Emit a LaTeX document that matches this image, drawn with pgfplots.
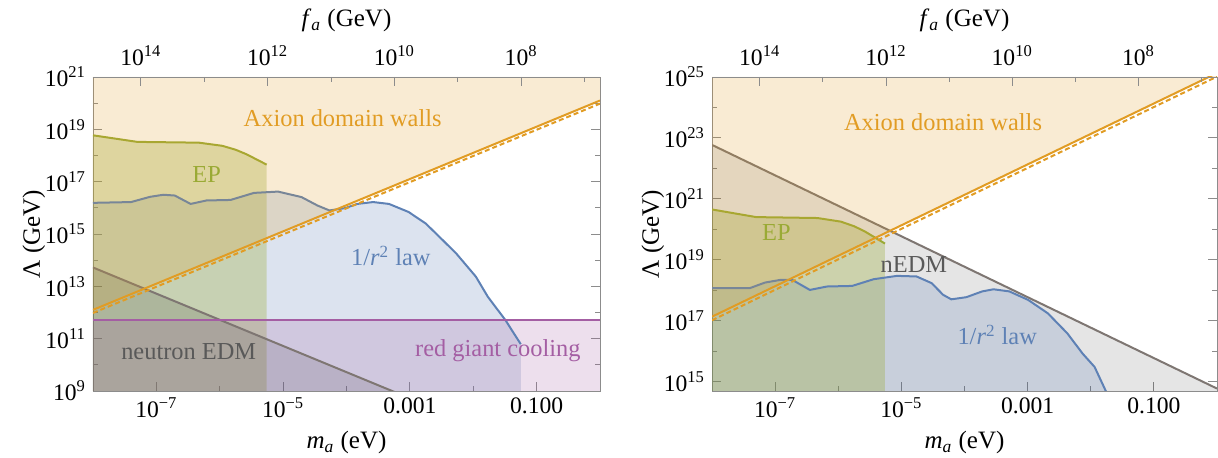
\documentclass[border=0pt]{standalone}
\usepackage{fontspec}
\setmainfont{Liberation Serif}
\usepackage{pgfplots}
\pgfplotsset{compat=1.18}

\definecolor{cblue}{HTML}{5E81B5}
\definecolor{corange}{HTML}{E19C24}
\definecolor{cgreen}{HTML}{9AAA35}
\definecolor{cpurple}{HTML}{A45EA3}
\definecolor{cgrey}{HTML}{7E7672}
\definecolor{cframe}{HTML}{8C8C8C}

\newcommand{\tp}[1]{10\textsuperscript{#1}}

\pgfplotsset{
  every axis/.append style={
    scale only axis, height=157pt,
    axis line style={cframe}, tick style={cframe, thin},
    major tick length=4.5pt, minor tick length=2.5pt,
    tick align=inside,
    tick label style={font=\fontsize{11.8}{13}\selectfont},
    label style={font=\fontsize{12.5}{14}\selectfont},
  },
}
\tikzset{regionlabel/.style={font=\fontsize{12.2}{14}\selectfont}}

\begin{document}
\begin{tikzpicture}
\useasboundingbox (-46.5pt,-33.5pt) rectangle (562.5pt,195.5pt);

% ---------------- left panel ----------------
\begin{axis}[width=253.5pt,
  xmode=log, ymode=log, xmin=1e-8, xmax=1, ymin=1e9, ymax=1e21,
  xtick={1e-7,1e-5,1e-3,1e-1},
  xticklabels={\tp{−7},\tp{−5},0.001,0.100},
  minor xtick={1e-6,1e-4,1e-2},
  ytick={1e9,1e11,1e13,1e15,1e17,1e19,1e21},
  yticklabels={\tp{9},\tp{11},\tp{13},\tp{15},\tp{17},\tp{19},\tp{21}},
  minor ytick={1e10,1e12,1e14,1e16,1e18,1e20},
  xtick pos=bottom, ytick pos=both, yticklabel pos=left,
  ylabel shift=-7pt,
  xlabel={\textit{m}\textsubscript{\textit{a}} (eV)},
  ylabel={Λ (GeV)}]

% 1/r^2 law
\addplot[draw=none, fill=cblue, fill opacity=0.22] coordinates {
  (1e-8,1.55e16) (3.98e-8,1.66e16) (7.94e-8,2.63e16) (1.29e-7,3.16e16)
  (1.95e-7,2.95e16) (3.47e-7,1.41e16) (6.17e-7,1.91e16) (1.48e-6,2.0e16)
  (3.47e-6,3.72e16) (8.32e-6,4.17e16) (1.95e-5,2.57e16) (3.47e-5,1.23e16)
  (5.37e-5,7.94e15) (9.55e-5,9.77e15) (1.48e-4,1.41e16) (2.63e-4,1.66e16)
  (4.68e-4,1.41e16) (9.55e-4,6.92e15) (1.78e-3,2.51e15) (2.63e-3,1.0e15)
  (5.37e-3,1.82e14) (1.10e-2,2.34e13) (1.70e-2,3.98e12) (2.45e-2,1.23e12)
  (3.24e-2,5.01e11) (4.07e-2,2.09e11) (5.62e-2,6.17e10)
  (5.62e-2,1e8) (1e-8,1e8)};
% EP
\addplot[draw=none, fill=cgreen, fill opacity=0.32] coordinates {
  (1e-8,5.9e18) (5.0e-8,3.31e18) (4.68e-7,3.09e18) (1.10e-6,2.34e18)
  (1.78e-6,1.66e18) (2.63e-6,1.12e18) (5.50e-6,4.47e17)
  (5.50e-6,1e8) (1e-8,1e8)};
% neutron EDM
\addplot[draw=none, fill=black, fill opacity=0.13] coordinates {
  (1e-8,5.25e13) (1e-3,5.25e8) (1e-3,1e8) (1e-8,1e8)};
% red giant cooling
\addplot[draw=none, fill=cpurple, fill opacity=0.2] coordinates {
  (1e-8,5.13e11) (1,5.13e11) (1,1e8) (1e-8,1e8)};

\addplot[cblue, line width=1pt] coordinates {
  (1e-8,1.55e16) (3.98e-8,1.66e16) (7.94e-8,2.63e16) (1.29e-7,3.16e16)
  (1.95e-7,2.95e16) (3.47e-7,1.41e16) (6.17e-7,1.91e16) (1.48e-6,2.0e16)
  (3.47e-6,3.72e16) (8.32e-6,4.17e16) (1.95e-5,2.57e16) (3.47e-5,1.23e16)
  (5.37e-5,7.94e15) (9.55e-5,9.77e15) (1.48e-4,1.41e16) (2.63e-4,1.66e16)
  (4.68e-4,1.41e16) (9.55e-4,6.92e15) (1.78e-3,2.51e15) (2.63e-3,1.0e15)
  (5.37e-3,1.82e14) (1.10e-2,2.34e13) (1.70e-2,3.98e12) (2.45e-2,1.23e12)
  (3.24e-2,5.01e11) (4.07e-2,2.09e11) (5.62e-2,6.17e10)};
\addplot[cgreen, line width=1pt] coordinates {
  (1e-8,5.9e18) (5.0e-8,3.31e18) (4.68e-7,3.09e18) (1.10e-6,2.34e18)
  (1.78e-6,1.66e18) (2.63e-6,1.12e18) (5.50e-6,4.47e17)};
\addplot[cgrey, line width=1pt] coordinates {(1e-8,5.25e13) (1e-3,5.25e8)};
\addplot[cpurple, line width=1pt] coordinates {(1e-8,5.13e11) (1,5.13e11)};

% axion domain walls
\addplot[draw=none, fill=corange, fill opacity=0.2] coordinates {
  (1e-8,1.26e12) (1,1.26e20) (1,1e21) (1e-8,1e21)};
\addplot[corange, line width=1pt] coordinates {(1e-8,1.26e12) (1,1.26e20)};
\addplot[corange, line width=1pt, dash pattern=on 2.5pt off 1.5pt]
  coordinates {(1e-8,9.6e11) (1,9.6e19)};

\node[regionlabel, text=corange] at (axis cs:8.7e-5,2.75e19) {Axion domain walls};
\node[regionlabel, text=cgreen] at (axis cs:6.2e-7,1.95e17) {EP};
\node[regionlabel, text=cblue] at (axis cs:5.0e-4,1.45e14) {1/\textit{r}\textsuperscript{2} law};
\node[regionlabel, text=black!65] at (axis cs:3.24e-7,3.1e10) {neutron EDM};
\node[regionlabel, text=cpurple] at (axis cs:2.45e-2,3.6e10) {red giant cooling};
\end{axis}

\begin{axis}[width=253.5pt,
  xmode=log, xmin=1e-8, xmax=1, ymin=1, ymax=10,
  axis x line*=top, axis y line=none,
  xtick={5.7e-8,5.7e-6,5.7e-4,5.7e-2},
  xticklabels={\tp{14},\tp{12},\tp{10},\tp{8}},
  minor xtick={5.7e-7,5.7e-5,5.7e-3,5.7e-1},
  xticklabel shift=2pt,
  xlabel={\textit{f}\textsubscript{\textit{a}} (GeV)}]
\end{axis}

% ---------------- right panel ----------------
\begin{axis}[at={(309.5pt,0pt)}, width=252.5pt,
  xmode=log, ymode=log, xmin=1e-8, xmax=1, ymin=4.9e14, ymax=1e25,
  xtick={1e-7,1e-5,1e-3,1e-1},
  xticklabels={\tp{−7},\tp{−5},0.001,0.100},
  minor xtick={1e-6,1e-4,1e-2},
  ytick={1e15,1e17,1e19,1e21,1e23,1e25},
  yticklabels={\tp{15},\tp{17},\tp{19},\tp{21},\tp{23},\tp{25}},
  minor ytick={1e16,1e18,1e20,1e22,1e24},
  xtick pos=bottom, ytick pos=both, yticklabel pos=left,
  ylabel shift=-7pt,
  xlabel={\textit{m}\textsubscript{\textit{a}} (eV)},
  ylabel={Λ (GeV)}]

% nEDM
\addplot[draw=none, fill=black, fill opacity=0.1] coordinates {
  (1e-8,5.89e22) (1,5.89e14) (1,1e14) (1e-8,1e14)};
% 1/r^2 law
\addplot[draw=none, fill=cblue, fill opacity=0.22] coordinates {
  (1e-8,1.17e18) (3.98e-8,1.17e18) (6.92e-8,1.78e18) (1.23e-7,2.19e18)
  (1.86e-7,2.19e18) (3.55e-7,1.02e18) (6.61e-7,1.32e18) (1.66e-6,1.38e18)
  (3.63e-6,2.29e18) (8.51e-6,2.95e18) (1.74e-5,2.82e18) (3.02e-5,1.70e18)
  (4.57e-5,7.08e17) (6.17e-5,5.01e17) (1.07e-4,5.89e17) (1.91e-4,9.12e17)
  (2.88e-4,1.07e18) (5.13e-4,9.12e17) (1.02e-3,4.79e17) (2.09e-3,1.74e17)
  (4.27e-3,3.80e16) (7.41e-3,8.32e15) (1.15e-2,3.02e15) (1.74e-2,4.79e14)
  (1.8e-2,3e14) (1.8e-2,1e14) (1e-8,1e14)};
% EP
\addplot[draw=none, fill=cgreen, fill opacity=0.32] coordinates {
  (1e-8,4.47e20) (5.0e-8,2.51e20) (4.68e-7,2.34e20) (1.10e-6,1.78e20)
  (1.78e-6,1.26e20) (2.63e-6,8.51e19) (5.50e-6,3.39e19)
  (5.50e-6,1e14) (1e-8,1e14)};

\addplot[cgrey, line width=1pt] coordinates {(1e-8,5.89e22) (1,5.89e14)};
\addplot[cblue, line width=1pt] coordinates {
  (1e-8,1.17e18) (3.98e-8,1.17e18) (6.92e-8,1.78e18) (1.23e-7,2.19e18)
  (1.86e-7,2.19e18) (3.55e-7,1.02e18) (6.61e-7,1.32e18) (1.66e-6,1.38e18)
  (3.63e-6,2.29e18) (8.51e-6,2.95e18) (1.74e-5,2.82e18) (3.02e-5,1.70e18)
  (4.57e-5,7.08e17) (6.17e-5,5.01e17) (1.07e-4,5.89e17) (1.91e-4,9.12e17)
  (2.88e-4,1.07e18) (5.13e-4,9.12e17) (1.02e-3,4.79e17) (2.09e-3,1.74e17)
  (4.27e-3,3.80e16) (7.41e-3,8.32e15) (1.15e-2,3.02e15) (1.74e-2,4.79e14)
  (1.8e-2,3e14)};
\addplot[cgreen, line width=1pt] coordinates {
  (1e-8,4.47e20) (5.0e-8,2.51e20) (4.68e-7,2.34e20) (1.10e-6,1.78e20)
  (1.78e-6,1.26e20) (2.63e-6,8.51e19) (5.50e-6,3.39e19)};

% axion domain walls
\addplot[draw=none, fill=corange, fill opacity=0.2] coordinates {
  (1e-8,1.35e17) (1,1.35e25) (1,1e25) (1e-8,1e25)};
\addplot[corange, line width=1pt] coordinates {(1e-8,1.35e17) (1,1.35e25)};
\addplot[corange, line width=1pt, dash pattern=on 2.5pt off 1.5pt]
  coordinates {(1e-8,1.03e17) (1,1.03e25)};

\node[regionlabel, text=corange] at (axis cs:4.57e-5,3.39e23) {Axion domain walls};
\node[regionlabel, text=cgreen] at (axis cs:1.05e-7,7.6e19) {EP};
\node[regionlabel, text=black!65] at (axis cs:1.58e-5,6.9e18) {nEDM};
\node[regionlabel, text=cblue] at (axis cs:3.3e-4,3.4e16) {1/\textit{r}\textsuperscript{2} law};
\end{axis}

\begin{axis}[at={(309.5pt,0pt)}, width=252.5pt,
  xmode=log, xmin=1e-8, xmax=1, ymin=1, ymax=10,
  axis x line*=top, axis y line=none,
  xtick={5.7e-8,5.7e-6,5.7e-4,5.7e-2},
  xticklabels={\tp{14},\tp{12},\tp{10},\tp{8}},
  minor xtick={5.7e-7,5.7e-5,5.7e-3,5.7e-1},
  xticklabel shift=2pt,
  xlabel={\textit{f}\textsubscript{\textit{a}} (GeV)}]
\end{axis}
\end{tikzpicture}
\end{document}
